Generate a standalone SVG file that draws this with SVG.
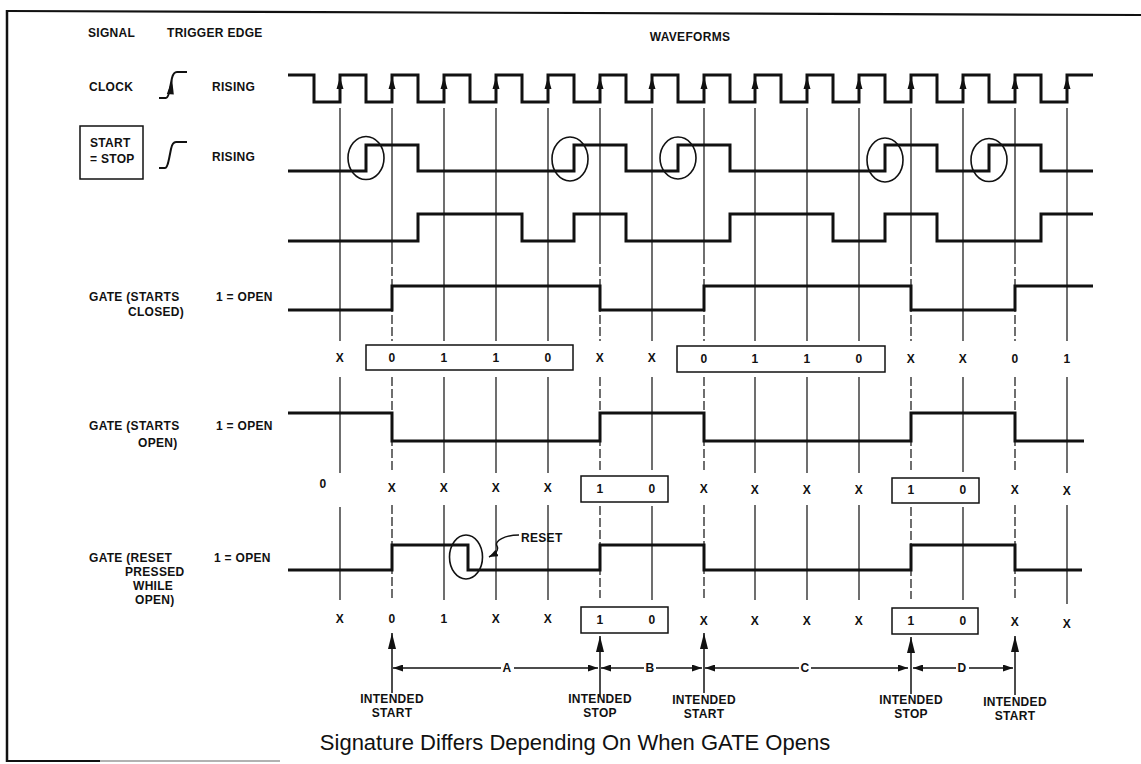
<svg xmlns="http://www.w3.org/2000/svg" xmlns:xlink="http://www.w3.org/1999/xlink" width="1141" height="764" viewBox="0 0 1141 764">
<style>
.t{font-family:"Liberation Sans",Arial,Helvetica,sans-serif;font-weight:bold;font-size:12px;letter-spacing:0.3px;fill:#111}
.c{text-anchor:middle}
.cap{font-family:"Liberation Sans",Arial,Helvetica,sans-serif;font-size:22px;fill:#111;text-anchor:middle}
.w{fill:none;stroke:#111;stroke-width:3;stroke-linejoin:miter;stroke-linecap:butt}
.v{fill:none;stroke:#222;stroke-width:1.3}
.d{stroke-dasharray:9 3}
.bx{fill:none;stroke:#111;stroke-width:1.5}
.el{fill:none;stroke:#111;stroke-width:1.6}
.ar{fill:none;stroke:#111;stroke-width:1.5}
.sym{fill:none;stroke:#111;stroke-width:2}
</style>
<defs>
<marker id="ah" viewBox="0 0 10 7" refX="10" refY="3.5" markerWidth="10" markerHeight="7" markerUnits="userSpaceOnUse" orient="auto-start-reverse"><path d="M0,0 L10,3.5 L0,7 Z" fill="#111"/></marker>
<marker id="ahBig" viewBox="0 0 16 8" refX="16" refY="4" markerWidth="16" markerHeight="8" markerUnits="userSpaceOnUse" orient="auto"><path d="M0,0 L16,4 L0,8 Z" fill="#111"/></marker>
<marker id="ahSm" viewBox="0 0 9 7" refX="9" refY="3.5" markerWidth="9" markerHeight="7" markerUnits="userSpaceOnUse" orient="auto"><path d="M0,0 L9,3.5 L0,7 Z" fill="#111"/></marker>
<path id="ck" d="M0,0 L3.5,12 L-3.5,12 Z" fill="#111"/>
</defs>
<rect width="1141" height="764" fill="#fff"/>

<g id="frame">
<line x1="7" y1="11" x2="1141" y2="15" stroke="#111" stroke-width="2.2"/>
<line x1="7" y1="10" x2="7" y2="762" stroke="#111" stroke-width="2.5"/>
<line x1="6" y1="761" x2="100" y2="761" stroke="#111" stroke-width="2.2"/>
<line x1="100" y1="761" x2="280" y2="761" stroke="#999" stroke-width="1.5"/>
</g>

<g id="header">
<text class="t" x="88" y="37">SIGNAL</text>
<text class="t" x="167" y="37">TRIGGER EDGE</text>
<text class="t c" x="690" y="41">WAVEFORMS</text>
</g>

<g id="label-clock">
<text class="t" x="89" y="91">CLOCK</text>
<path class="sym" d="M159,98 H166 C168,98 169,94 170,88 L172,78 C173,74 174,72 177,72 H187"/>
<path d="M172.2,80 L166.8,94 L173.8,94.5 Z" fill="#111"/>
<text class="t" x="212" y="91">RISING</text>
</g>

<g id="label-startstop">
<rect class="bx" x="80" y="126" width="63" height="53"/>
<text class="t" x="90" y="147">START</text>
<text class="t" x="90" y="163">= STOP</text>
<path class="sym" d="M159,168 H165 C167,168 168,164 169,159 L171,149 C172,144 173,142 176,142 H187"/>
<text class="t" x="212" y="161">RISING</text>
</g>

<g id="label-gate-closed">
<text class="t" x="89" y="301">GATE (STARTS</text>
<text class="t" x="128" y="316">CLOSED)</text>
<text class="t" x="216" y="301">1 = OPEN</text>
</g>

<g id="label-gate-open">
<text class="t" x="89" y="430">GATE (STARTS</text>
<text class="t" x="138" y="447">OPEN)</text>
<text class="t" x="216" y="430">1 = OPEN</text>
</g>

<g id="label-gate-reset">
<text class="t" x="89" y="562">GATE (RESET</text>
<text class="t" x="125" y="576">PRESSED</text>
<text class="t" x="133" y="590">WHILE</text>
<text class="t" x="135" y="604">OPEN)</text>
<text class="t" x="214" y="562">1 = OPEN</text>
</g>

<g id="connectors">
<!-- clock edge reference lines -->
<path class="v" d="M340,108 V341 M340,377 V473 M340,507 V600"/>
<path class="v" d="M392,108 V255"/><path class="v d" d="M392,255 V341 M392,377 V473 M392,505 V599"/>
<path class="v" d="M444,108 V341 M444,377 V473 M444,505 V600"/>
<path class="v" d="M496,108 V341 M496,377 V473 M496,505 V600"/>
<path class="v" d="M548,108 V341 M548,377 V473 M548,505 V600"/>
<path class="v" d="M600,108 V255"/><path class="v d" d="M600,255 V341 M600,377 V470 M600,506 V598"/>
<path class="v" d="M652,108 V341 M652,377 V470 M652,506 V600"/>
<path class="v" d="M704,108 V255"/><path class="v d" d="M704,255 V341 M704,377 V473 M704,505 V600"/>
<path class="v" d="M755,108 V341 M755,377 V473 M755,505 V600"/>
<path class="v" d="M807,108 V341 M807,377 V473 M807,505 V600"/>
<path class="v" d="M859,108 V341 M859,377 V473 M859,505 V600"/>
<path class="v" d="M911,108 V255"/><path class="v d" d="M911,255 V341 M911,377 V472 M911,507 V599"/>
<path class="v" d="M963,108 V341 M963,377 V472 M963,507 V600"/>
<path class="v" d="M1015,108 V255"/><path class="v d" d="M1015,255 V341 M1015,377 V473 M1015,505 V600"/>
<path class="v" d="M1067,108 V341 M1067,377 V473 M1067,505 V604"/>
<!-- intended arrows -->
<line class="ar" x1="392" y1="693" x2="392" y2="633" marker-end="url(#ahBig)"/>
<line class="ar" x1="600" y1="697" x2="600" y2="636" marker-end="url(#ahBig)"/>
<line class="ar" x1="704" y1="693" x2="704" y2="633" marker-end="url(#ahBig)"/>
<line class="ar" x1="911" y1="694" x2="911" y2="637" marker-end="url(#ahBig)"/>
<line class="ar" x1="1015" y1="695" x2="1015" y2="636" marker-end="url(#ahBig)"/>
<!-- interval dimension arrows -->
<path class="ar" d="M393,668 H501" marker-start="url(#ah)"/>
<path class="ar" d="M514,668 H598" marker-end="url(#ah)"/>
<path class="ar" d="M601,668 H644" marker-start="url(#ah)"/>
<path class="ar" d="M656,668 H702" marker-end="url(#ah)"/>
<path class="ar" d="M705,668 H799" marker-start="url(#ah)"/>
<path class="ar" d="M811,668 H908" marker-end="url(#ah)"/>
<path class="ar" d="M913,668 H956" marker-start="url(#ah)"/>
<path class="ar" d="M969,668 H1013" marker-end="url(#ah)"/>
<!-- reset leader -->
<path class="ar" d="M519,535 C505,535 494,541 497,546 C499,550 497,553 489,557" marker-end="url(#ahSm)"/>
</g>

<g id="clock">
<path class="w" d="M288,75 H314 V102 H340 V75 H366 V102 H392 V75 H418 V102 H444 V75 H470 V102 H496 V75 H522 V102 H548 V75 H574 V102 H600 V75 H626 V102 H652 V75 H678 V102 H704 V75 H730 V102 H755 V75 H781 V102 H807 V75 H833 V102 H859 V75 H885 V102 H911 V75 H937 V102 H963 V75 H989 V102 H1015 V75 H1041 V102 H1067 V75 H1093"/>
<use xlink:href="#ck" x="340" y="77"/><use xlink:href="#ck" x="392" y="77"/><use xlink:href="#ck" x="444" y="77"/>
<use xlink:href="#ck" x="496" y="77"/><use xlink:href="#ck" x="548" y="77"/><use xlink:href="#ck" x="600" y="77"/>
<use xlink:href="#ck" x="652" y="77"/><use xlink:href="#ck" x="704" y="77"/><use xlink:href="#ck" x="755" y="77"/>
<use xlink:href="#ck" x="807" y="77"/><use xlink:href="#ck" x="859" y="77"/><use xlink:href="#ck" x="911" y="77"/>
<use xlink:href="#ck" x="963" y="77"/><use xlink:href="#ck" x="1015" y="77"/><use xlink:href="#ck" x="1067" y="77"/>
</g>

<g id="start-stop">
<path class="w" d="M288,171 H366 V145 H418 V171 H574 V145 H626 V171 H678 V145 H730 V171 H885 V145 H937 V171 H989 V145 H1041 V171 H1093"/>
<ellipse class="el" cx="366" cy="158" rx="18" ry="21.5"/>
<ellipse class="el" cx="570" cy="159" rx="18" ry="22"/>
<ellipse class="el" cx="678" cy="158" rx="18" ry="21"/>
<ellipse class="el" cx="885" cy="160" rx="18" ry="22"/>
<ellipse class="el" cx="989" cy="160" rx="18" ry="21.5"/>
</g>

<g id="toggle">
<path class="w" d="M288,241 H418 V214 H522 V241 H574 V214 H626 V241 H730 V214 H833 V241 H885 V214 H937 V241 H1041 V214 H1093"/>
</g>

<g id="gate-closed">
<path class="w" d="M288,310 H392 V286 H600 V310 H704 V286 H911 V310 H1015 V286 H1093"/>
<rect class="bx" x="366" y="345" width="207" height="25"/>
<rect class="bx" x="677" y="346" width="208" height="26"/>
<text class="t c" x="340" y="362">X</text><text class="t c" x="392" y="362">0</text><text class="t c" x="444" y="362">1</text>
<text class="t c" x="496" y="362">1</text><text class="t c" x="548" y="362">0</text><text class="t c" x="600" y="362">X</text>
<text class="t c" x="652" y="362">X</text><text class="t c" x="704" y="363">0</text><text class="t c" x="755" y="363">1</text>
<text class="t c" x="807" y="363">1</text><text class="t c" x="859" y="363">0</text><text class="t c" x="911" y="363">X</text>
<text class="t c" x="963" y="363">X</text><text class="t c" x="1015" y="363">0</text><text class="t c" x="1067" y="363">1</text>
</g>

<g id="gate-open">
<path class="w" d="M288,413 H392 V441 H600 V413 H704 V441 H911 V413 H1015 V441 H1084"/>
<rect class="bx" x="581" y="476" width="87" height="26"/>
<rect class="bx" x="892" y="478" width="87" height="25"/>
<text class="t c" x="323" y="488">0</text><text class="t c" x="392" y="492">X</text><text class="t c" x="444" y="492">X</text>
<text class="t c" x="496" y="492">X</text><text class="t c" x="548" y="492">X</text><text class="t c" x="600" y="493">1</text>
<text class="t c" x="652" y="493">0</text><text class="t c" x="704" y="493">X</text><text class="t c" x="755" y="494">X</text>
<text class="t c" x="807" y="494">X</text><text class="t c" x="859" y="494">X</text><text class="t c" x="911" y="494">1</text>
<text class="t c" x="963" y="494">0</text><text class="t c" x="1015" y="494">X</text><text class="t c" x="1067" y="495">X</text>
</g>

<g id="gate-reset">
<path class="w" d="M288,570 H392 V545 H468 V570 H600 V545 H704 V570 H911 V545 H1015 V570 H1082"/>
<ellipse class="el" cx="466" cy="557" rx="16.5" ry="22"/>
<text class="t" x="521" y="542">RESET</text>
<rect class="bx" x="581" y="607" width="87" height="26"/>
<rect class="bx" x="892" y="608" width="86" height="26"/>
<text class="t c" x="340" y="623">X</text><text class="t c" x="392" y="623">0</text><text class="t c" x="444" y="623">1</text>
<text class="t c" x="496" y="623">X</text><text class="t c" x="548" y="623">X</text><text class="t c" x="600" y="624">1</text>
<text class="t c" x="652" y="624">0</text><text class="t c" x="704" y="625">X</text><text class="t c" x="755" y="625">X</text>
<text class="t c" x="807" y="625">X</text><text class="t c" x="859" y="625">X</text><text class="t c" x="911" y="625">1</text>
<text class="t c" x="963" y="625">0</text><text class="t c" x="1015" y="626">X</text><text class="t c" x="1067" y="628">X</text>
</g>

<g id="intervals">
<text class="t c" x="507" y="672">A</text>
<text class="t c" x="650" y="672">B</text>
<text class="t c" x="805" y="672">C</text>
<text class="t c" x="962" y="672">D</text>
</g>

<g id="intended">
<text class="t c" x="392" y="703">INTENDED</text><text class="t c" x="392" y="717">START</text>
<text class="t c" x="600" y="703">INTENDED</text><text class="t c" x="600" y="717">STOP</text>
<text class="t c" x="704" y="704">INTENDED</text><text class="t c" x="704" y="718">START</text>
<text class="t c" x="911" y="704">INTENDED</text><text class="t c" x="911" y="718">STOP</text>
<text class="t c" x="1015" y="706">INTENDED</text><text class="t c" x="1015" y="720">START</text>
</g>

<g id="caption">
<text class="cap" x="575" y="750">Signature Differs Depending On When GATE Opens</text>
</g>
</svg>
